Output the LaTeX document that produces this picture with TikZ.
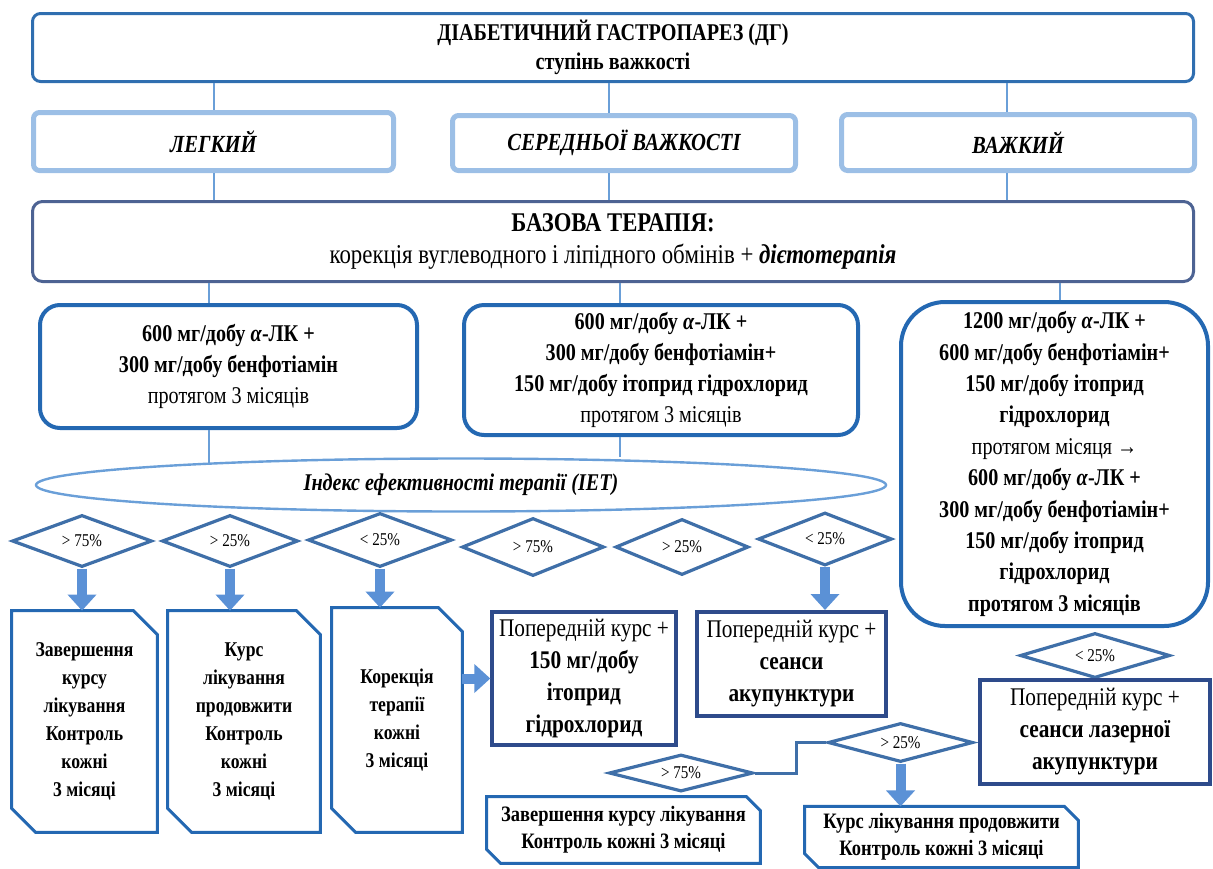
\documentclass[tikz,border=0pt]{standalone}
\usepackage{fontspec}
\setmainfont{Liberation Serif}[FakeStretch=0.84]
\usetikzlibrary{shapes.geometric,arrows.meta}
\definecolor{frameblue}{HTML}{2F6EB0}
\definecolor{paleblue}{HTML}{9CBFE6}
\definecolor{slateblue}{HTML}{4D6393}
\definecolor{boxblue}{HTML}{2468B2}
\definecolor{linkblue}{HTML}{6A9FD8}
\definecolor{diamblue}{HTML}{3F6FA8}
\definecolor{arrowblue}{HTML}{5B91D6}
\definecolor{navyblue}{HTML}{2E4B8B}
\tikzset{
	link/.style={draw=linkblue, line width=1pt},
	sev/.style={draw=paleblue, line width=2.5pt, rounded corners=3pt, font=\fontsize{12.3}{14}\selectfont\bfseries\itshape},
	therbox/.style={draw=boxblue, line width=2pt, align=center, font=\fontsize{12}{15.5}\selectfont\bfseries},
	cond/.style={diamond, draw=diamblue, line width=1.6pt, fill=white, aspect=2.7, inner sep=0pt, font=\fontsize{9}{10}\selectfont},
	bigarrow/.style={draw=arrowblue, line width=5pt, -{Triangle[width=14pt,length=8pt]}},
	snip/.style={draw=boxblue, line width=1.5pt},
	outbox/.style={align=center, font=\fontsize{10.5}{14}\selectfont\bfseries},
	stepbox/.style={draw=navyblue, line width=2pt, align=center, font=\fontsize{12.7}{16}\selectfont},
	elbow/.style={draw=diamblue, line width=1.5pt}
}
\begin{document}
\begin{tikzpicture}[x=0.5pt,y=-0.5pt]
		\useasboundingbox (0,0) rectangle (1213,868);
		\node[draw=frameblue, line width=1.5pt, rounded corners=4pt, minimum width=580.5pt, minimum height=34pt, align=center, font=\fontsize{12}{14.5}\selectfont\bfseries] (dg) at (613,47.5) {ДІАБЕТИЧНИЙ ГАСТРОПАРЕЗ (ДГ)\\ступінь важкості};
		\node[sev, minimum width=180pt, minimum height=29pt] (legk) at (213.5,141.5) {ЛЕГКИЙ};
		\node[sev, minimum width=171.5pt, minimum height=27.5pt] (sered) at (624,143) {СЕРЕДНЬОЇ ВАЖКОСТІ};
		\node[sev, minimum width=176.5pt, minimum height=28pt] (vazh) at (1018,142.5) {ВАЖКИЙ};
		\node[draw=slateblue, line width=1.5pt, rounded corners=5pt, minimum width=580.5pt, minimum height=40pt, align=center, font=\fontsize{13.6}{16}\selectfont] (baza) at (613,241.5) {{\fontsize{13.5}{16}\selectfont\bfseries БАЗОВА ТЕРАПІЯ:}\\корекція вуглеводного і ліпідного обмінів + \textbf{\textit{дієтотерапія}}};
		\coordinate (colA) at (214,0);
		\coordinate (colB) at (609,0);
		\coordinate (colC) at (1007,0);
		\draw[link] (dg.south -| colA) -- (legk.north -| colA);
		\draw[link] (dg.south -| colB) -- (sered.north -| colB);
		\draw[link] (dg.south -| colC) -- (vazh.north -| colC);
		\draw[link] (legk.south -| colA) -- (baza.north -| colA);
		\draw[link] (sered.south -| colB) -- (baza.north -| colB);
		\draw[link] (vazh.south -| colC) -- (baza.north -| colC);
		\node[therbox, rounded corners=10pt, minimum width=188.5pt, minimum height=61.5pt] (ter1) at (228.5,366.5) {600 мг/добу \textit{α}-ЛК +\\300 мг/добу бенфотіамін\\\mdseries протягом 3 місяців};
		\node[therbox, rounded corners=10pt, minimum width=197pt, minimum height=65pt] (ter2) at (661,370) {600 мг/добу \textit{α}-ЛК +\\300 мг/добу бенфотіамін+\\150 мг/добу ітоприд гідрохлорид\\\mdseries протягом 3 місяців};
		\node[therbox, rounded corners=22pt, minimum width=153.5pt, minimum height=162pt, font=\fontsize{12}{15.7}\selectfont\bfseries] (ter3) at (1054.5,464) {1200 мг/добу \textit{α}-ЛК +\\600 мг/добу бенфотіамін+\\150 мг/добу ітоприд\\гідрохлорид\\{\mdseries протягом місяця →}\\600 мг/добу \textit{α}-ЛК +\\300 мг/добу бенфотіамін+\\150 мг/добу ітоприд\\гідрохлорид\\протягом 3 місяців};
		\coordinate (colD) at (209,0);
		\coordinate (colE) at (620,0);
		\coordinate (colF) at (1060,0);
		\draw[link] (baza.south -| colD) -- (ter1.north -| colD);
		\draw[link] (baza.south -| colE) -- (ter2.north -| colE);
		\draw[link] (baza.south -| colF) -- (ter3.north -| colF);
		\node[ellipse, draw=linkblue, line width=1.2pt, minimum width=425pt, minimum height=26.5pt, font=\fontsize{12}{14}\selectfont\bfseries\itshape] (iet) at (461,485) {Індекс ефективності терапії (ІЕТ)};
		\coordinate (ietfoot) at (209,463);
		\draw[link] (ter1.south -| ietfoot) -- (ietfoot);
		\draw[link] (ter2.south -| colE) -- (iet.north -| colE);
		\node[cond, minimum width=70pt, minimum height=26pt] (c1) at (82,541) {> 75\%};
		\node[cond, minimum width=68pt, minimum height=26pt] (c2) at (230,541) {> 25\%};
		\node[cond, minimum width=72pt, minimum height=27pt] (c3) at (380,540) {< 25\%};
		\node[cond, minimum width=71pt, minimum height=29pt] (c4) at (533,547) {> 75\%};
		\node[cond, minimum width=66.5pt, minimum height=28pt] (c5) at (682,547) {> 25\%};
		\node[cond, minimum width=67pt, minimum height=26.5pt] (c6) at (825,539) {< 25\%};
		\node[cond, minimum width=75pt, minimum height=22.5pt] (c7) at (1095,655.5) {< 25\%};
		\node[cond, minimum width=72.5pt, minimum height=19.5pt] (c8) at (900.5,742.5) {> 25\%};
		\node[cond, minimum width=72pt, minimum height=18.5pt] (c9) at (681,773) {> 75\%};
		\node[outbox, minimum width=72.5pt, minimum height=110.5pt] (z1) at (84.5,721.5) {Завершення\\курсу\\лікування\\Контроль\\кожні\\3 місяці};
		\node[outbox, minimum width=76pt, minimum height=110.5pt] (z2) at (244,721.5) {Курс\\лікування\\продовжити\\Контроль\\кожні\\3 місяці};
		\node[outbox, minimum width=65pt, minimum height=112pt] (z3) at (397,720) {Корекція\\терапії\\кожні\\3 місяці};
		\node[outbox, minimum width=136.5pt, minimum height=33pt, font=\fontsize{11}{13.5}\selectfont\bfseries] (z8) at (623.5,830) {Завершення курсу лікування\\Контроль кожні 3 місяці};
		\node[outbox, minimum width=136.5pt, minimum height=30pt, font=\fontsize{11}{13.5}\selectfont\bfseries] (z9) at (941.5,837) {Курс лікування продовжити\\Контроль кожні 3 місяці};
		\foreach \n/\c in {z1/12pt,z2/12pt,z3/12pt,z8/7pt,z9/7pt}
			\draw[snip] (\n.north west) -- ([xshift=-\c]\n.north east) -- ([yshift=-\c]\n.north east) -- (\n.south east) -- ([xshift=\c]\n.south west) -- ([yshift=\c]\n.south west) -- cycle;
		\node[stepbox, minimum width=90pt, minimum height=66.5pt] (k4) at (584,678.5) {Попередній курс +\\\textbf{150 мг/добу}\\\textbf{ітоприд}\\\textbf{гідрохлорид}};
		\node[stepbox, minimum width=94.5pt, minimum height=52pt] (k5) at (791.5,664) {Попередній курс +\\\textbf{сеанси}\\\textbf{акупунктури}};
		\node[stepbox, minimum width=115pt, minimum height=52pt] (k7) at (1095,731.5) {Попередній курс +\\\textbf{сеанси лазерної}\\\textbf{акупунктури}};
		\draw[bigarrow] (c1.south) -- (c1.south |- z1.north);
		\draw[bigarrow] (c2.south) -- (c2.south |- z2.north);
		\draw[bigarrow] (c3.south) -- (c3.south |- z3.north);
		\draw[bigarrow] (c6.south) -- (c6.south |- k5.north);
		\draw[bigarrow] (z3.east |- k4.west) -- (k4.west);
		\draw[bigarrow] (c8.south) -- (c8.south |- z9.north);
		\draw[elbow] (c8.west) -- ++(-15pt,0) |- (c9.east);
\end{tikzpicture}
\end{document}
